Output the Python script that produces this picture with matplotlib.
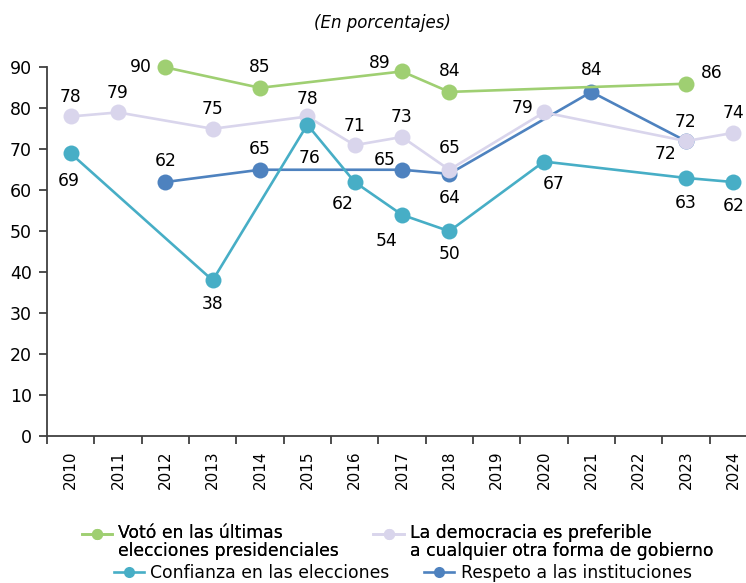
import numpy as np
import matplotlib.pyplot as plt
from matplotlib.lines import Line2D
from matplotlib.legend_handler import HandlerLine2D

plt.rcParams['font.family'] = ['DejaVu Sans']

years = list(range(2010, 2025))

voto_years = [2012, 2014, 2017, 2018, 2023]
voto = [90, 85, 89, 84, 86]

demo_years = [2010, 2011, 2013, 2015, 2016, 2017, 2018, 2020, 2023, 2024]
demo = [78, 79, 75, 78, 71, 73, 65, 79, 72, 74]

conf_years = [2010, 2013, 2015, 2016, 2017, 2018, 2020, 2023, 2024]
conf = [69, 38, 76, 62, 54, 50, 67, 63, 62]

resp_years = [2012, 2014, 2017, 2018, 2021, 2023]
resp = [62, 65, 65, 64, 84, 72]

labels = ['Votó en las últimas\nelecciones presidenciales',
          'La democracia es preferible\na cualquier otra forma de gobierno',
          'Confianza en las elecciones',
          'Respeto a las instituciones']

c_voto = '#9fcf72'
c_demo = '#d9d5ec'
c_conf = '#47aec6'
c_resp = '#4e82bf'

# label offsets in pixels (dx, dy)
voto_off = [(-25, 0), (0, 21), (-22, 8), (0, 21), (26, 11)]
demo_off = [(0, 19), (0, 19), (0, 20), (0, 17), (0, 19), (0, 20), (0, 22),
            (-21, 4), (0, 19), (0, 20)]
conf_off = [(-2, -28), (0, -24), (2, -33), (-12, -22), (-15, -26), (0, -23),
            (10, -22), (0, -25), (0, -24)]
resp_off = [(0, 21), (0, 21), (-17, 10), (0, -24), (0, 22), (-20, -13)]

fig = plt.figure(figsize=(7.46, 5.83), dpi=100)
ax = fig.add_axes([0.063, 0.2521, 0.9517, 0.6324])


def xpos(ys):
    return [years.index(y) for y in ys]


series = [
    (resp_years, resp, c_resp, resp_off),
    (demo_years, demo, c_demo, demo_off),
    (conf_years, conf, c_conf, conf_off),
    (voto_years, voto, c_voto, voto_off),
]
for z, (ys, vals, col, offs) in enumerate(series):
    xs = xpos(ys)
    ax.plot(xs, vals, color=col, lw=1.9, marker='o', ms=11.5,
            markeredgewidth=0, zorder=3 + z, clip_on=False)
    for x, v, off in zip(xs, vals, offs):
        ax.annotate(str(v), (x, v), xytext=off, textcoords='offset pixels',
                    ha='center', va='center', fontsize=12.3, zorder=10)

ax.set_xlim(-0.5, 14.5)
ax.set_ylim(0, 90)
ax.set_yticks(range(0, 91, 10))
ax.set_xticks(range(len(years)))
ax.set_xticklabels([str(y) for y in years], rotation=90, fontsize=11,
                   family=['DejaVu Sans Condensed', 'DejaVu Sans'])
ax.set_xticks(np.arange(-0.5, 14.5, 1), minor=True)
ax.tick_params(axis='x', which='major', length=0, pad=10.5)
ax.tick_params(axis='x', which='minor', length=6, width=1.3, color='#404040',
               direction='out')
ax.tick_params(axis='y', length=6, width=1.3, color='#404040', labelsize=12.5,
               pad=5)

for s in ['top', 'right']:
    ax.spines[s].set_visible(False)
for s in ['left', 'bottom']:
    ax.spines[s].set_color('#404040')
    ax.spines[s].set_linewidth(1.3)

fig.text(0.513, 0.96, '(En porcentajes)', ha='center', va='center',
         fontsize=12, style='italic')


class FirstLineHandler(HandlerLine2D):
    # put the legend key beside the first line of a two-line label
    def create_artists(self, legend, orig_handle, xdescent, ydescent,
                       width, height, fontsize, trans):
        return super().create_artists(legend, orig_handle, xdescent,
                                      ydescent - 12.5, width, height,
                                      fontsize, trans)


handles = [Line2D([], [], color=c, lw=1.9, marker='o', ms=8, markeredgewidth=0)
           for c in [c_voto, c_demo, c_conf, c_resp]]

kw = dict(frameon=False, fontsize=12.4, handlelength=1.75, handletextpad=0.38,
          columnspacing=2.0, ncol=2, borderpad=0, labelspacing=0)
leg1 = fig.legend(handles[:2], labels[:2], loc='upper center',
                  bbox_to_anchor=(0.533, 0.116),
                  handler_map={h: FirstLineHandler() for h in handles[:2]},
                  **kw)
for t in leg1.get_texts():
    t.set_linespacing(1.0)
fig.add_artist(leg1)
fig.legend(handles[2:], labels[2:], loc='upper center',
           bbox_to_anchor=(0.54, 0.048), **kw)

fig.savefig('out.png', dpi=100)
